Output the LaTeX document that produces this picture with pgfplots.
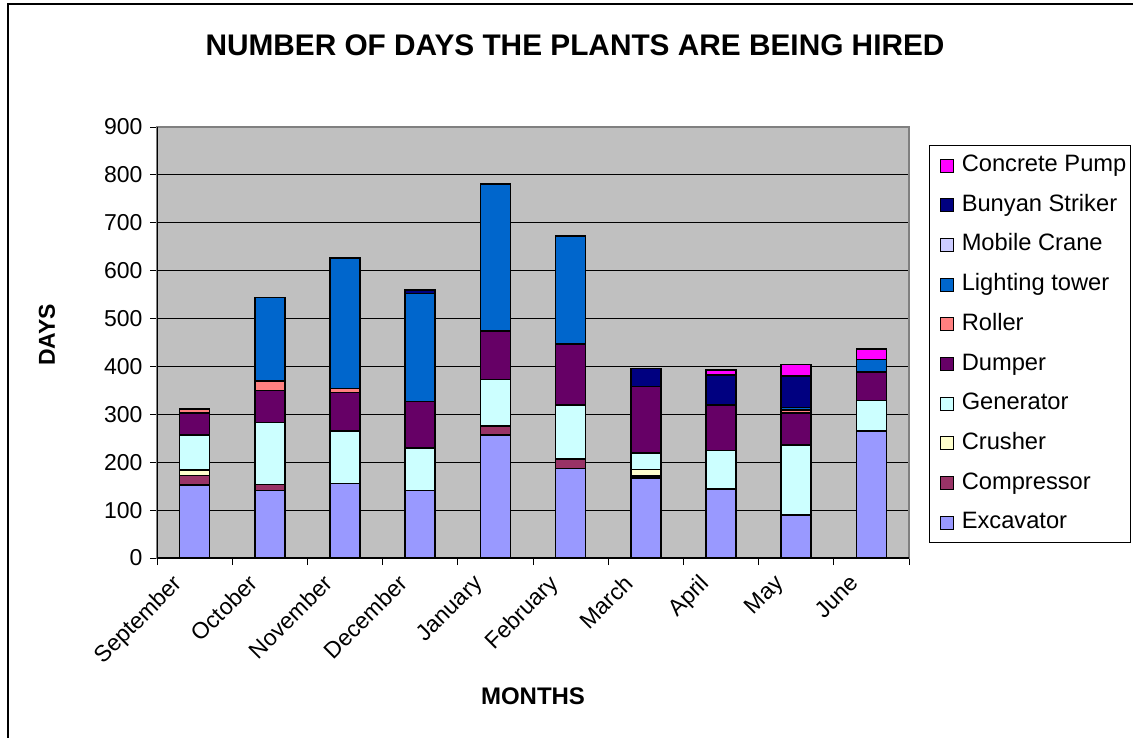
\documentclass[border=0pt]{standalone}
\usepackage{fontspec}
\setmainfont{Liberation Sans}
\usepackage{pgfplots}
\pgfplotsset{compat=1.18}

% Plant colours
\definecolor{cExc}{HTML}{9999FF}
\definecolor{cComp}{HTML}{993366}
\definecolor{cCrush}{HTML}{FFFFCC}
\definecolor{cGen}{HTML}{CCFFFF}
\definecolor{cDump}{HTML}{660066}
\definecolor{cRoll}{HTML}{FF8080}
\definecolor{cLight}{HTML}{0066CC}
\definecolor{cCrane}{HTML}{CCCCFF}
\definecolor{cBuny}{HTML}{000080}
\definecolor{cPump}{HTML}{FF00FF}
\definecolor{plotbg}{HTML}{C0C0C0}
\definecolor{axgray}{HTML}{808080}

\pgfplotsset{
  plant/.style={fill=#1, draw=black, line width=1.5pt,
    legend image code/.code={\path (0pt,0pt);
      \filldraw[##1, line width=1pt] (6pt,-6.5pt) rectangle (19pt,6.5pt);}},
}

\begin{document}
\begin{tikzpicture}
\useasboundingbox (0pt,0pt) rectangle (1133pt,-738pt);
\draw[line width=2pt] (8pt,-742pt) -- (8pt,-4pt) -- (1137pt,-4pt);
\node[font=\fontsize{29.8}{34}\selectfont\bfseries] at (575pt,-45pt) {NUMBER OF DAYS THE PLANTS ARE BEING HIRED};
\node[font=\fontsize{24}{28}\selectfont\bfseries] at (533pt,-696pt) {MONTHS};
\node[font=\fontsize{23}{27}\selectfont\bfseries, rotate=90] at (47pt,-335pt) {DAYS};

\begin{axis}[
  at={(157pt,-558pt)}, anchor=south west,
  scale only axis, width=752pt, height=431pt,
  ybar stacked, bar width=30pt,
  xmin=0, xmax=10, ymin=0, ymax=900,
  xtick={0,...,10}, x tick label as interval,
  xticklabels={September,October,November,December,January,February,March,April,May,June},
  ytick={0,100,...,900},
  xtick pos=bottom, ytick pos=left,
  tick align=outside, major tick length=7pt,
  tick style={black, line width=0.9pt},
  ymajorgrids, grid style={black, line width=0.9pt},
  axis background/.style={fill=plotbg},
  axis line style={draw=axgray, line width=1.2pt},
  /pgf/number format/assume math mode=true,
  yticklabel style={font=\fontsize{23}{27}\selectfont, xshift=-4pt},
  xticklabel style={font=\fontsize{23}{27}\selectfont, inner sep=0pt,
    xshift=-23pt, yshift=-8pt, rotate=45, anchor=north east},
  reverse legend,
  legend cell align=left,
  legend style={at={(1.0266,0.9582)}, anchor=north west, draw=black, line width=1pt,
    font=\fontsize{23.7}{28}\selectfont, row sep=17.7pt, column sep=8pt,
    inner xsep=4pt, inner ysep=9pt,
    nodes={inner sep=0pt, text height=17pt, text depth=5pt}},
]
\addplot[plant=cExc] coordinates {(0.5,152) (1.5,141) (2.5,156) (3.5,141) (4.5,257) (5.5,187) (6.5,167) (7.5,144) (8.5,90) (9.5,265)};
\addlegendentry{Excavator}
\addplot[plant=cComp] coordinates {(0.5,20) (1.5,12) (2.5,0) (3.5,0) (4.5,19) (5.5,20) (6.5,4) (7.5,0) (8.5,0) (9.5,0)};
\addlegendentry{Compressor}
\addplot[plant=cCrush] coordinates {(0.5,12) (1.5,0) (2.5,0) (3.5,0) (4.5,0) (5.5,0) (6.5,14) (7.5,0) (8.5,0) (9.5,0)};
\addlegendentry{Crusher}
\addplot[plant=cGen] coordinates {(0.5,73) (1.5,130) (2.5,109) (3.5,89) (4.5,97) (5.5,112) (6.5,34) (7.5,81) (8.5,146) (9.5,64)};
\addlegendentry{Generator}
\addplot[plant=cDump] coordinates {(0.5,46) (1.5,67) (2.5,81) (3.5,97) (4.5,101) (5.5,128) (6.5,139) (7.5,94) (8.5,67) (9.5,59)};
\addlegendentry{Dumper}
\addplot[plant=cRoll] coordinates {(0.5,8) (1.5,20) (2.5,8) (3.5,0) (4.5,0) (5.5,0) (6.5,0) (7.5,0) (8.5,6) (9.5,0)};
\addlegendentry{Roller}
\addplot[plant=cLight] coordinates {(0.5,0) (1.5,174) (2.5,272) (3.5,225) (4.5,307) (5.5,225) (6.5,0) (7.5,0) (8.5,5) (9.5,27)};
\addlegendentry{Lighting tower}
\addplot[plant=cCrane] coordinates {(0.5,0) (1.5,0) (2.5,0) (3.5,0) (4.5,0) (5.5,0) (6.5,0) (7.5,0) (8.5,0) (9.5,0)};
\addlegendentry{Mobile Crane}
\addplot[plant=cBuny] coordinates {(0.5,0) (1.5,0) (2.5,0) (3.5,8) (4.5,0) (5.5,0) (6.5,38) (7.5,63) (8.5,66) (9.5,0)};
\addlegendentry{Bunyan Striker}
\addplot[plant=cPump] coordinates {(0.5,0) (1.5,0) (2.5,0) (3.5,0) (4.5,0) (5.5,0) (6.5,0) (7.5,11) (8.5,24) (9.5,21)};
\addlegendentry{Concrete Pump}
% solid value and category axes over the grey frame
\draw[black, line width=1.2pt] (rel axis cs:0,1) -- (rel axis cs:0,0) -- (rel axis cs:1,0);
\end{axis}
\end{tikzpicture}
\end{document}
